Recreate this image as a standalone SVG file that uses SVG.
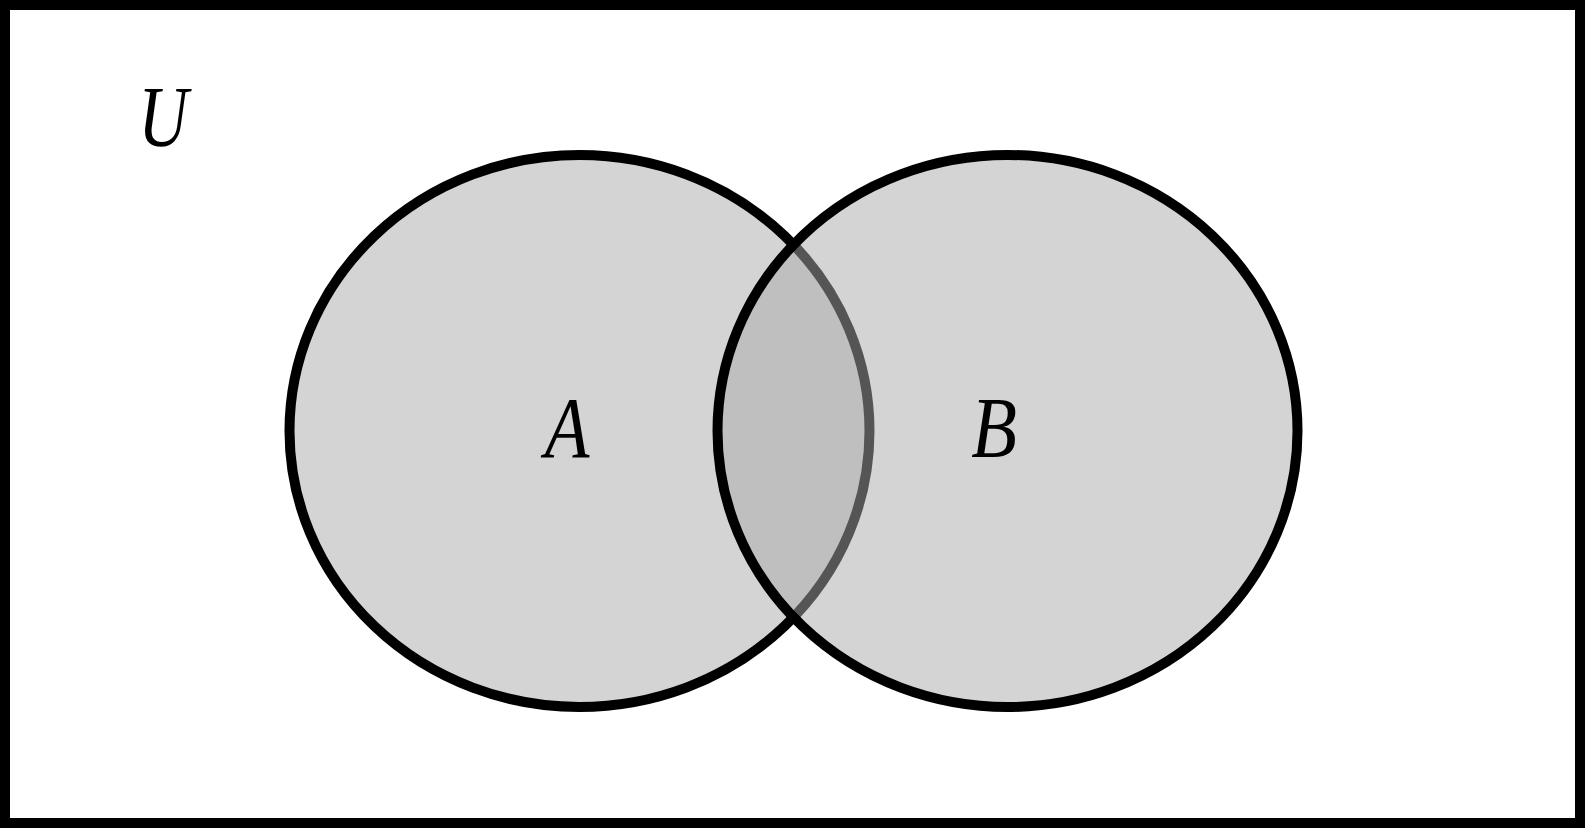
<svg xmlns="http://www.w3.org/2000/svg" width="1585" height="828" viewBox="0 0 1585 828">
<style>
.set{fill:#a9a9a9;fill-opacity:0.5;stroke:#000;stroke-width:10}
.lbl{font-family:"Liberation Serif","Times New Roman",serif;font-style:italic;font-size:86px;fill:#000;text-anchor:middle}
</style>
<rect x="0" y="0" width="1585" height="828" fill="#fff"/>
<g id="universe">
<rect x="5" y="5" width="1575" height="818" fill="none" stroke="#000" stroke-width="10"/>
<text class="lbl" transform="translate(163,146) scale(0.8,1)">U</text>
</g>
<g id="setA">
<ellipse class="set" cx="579.5" cy="431" rx="290" ry="276"/>
<text class="lbl" transform="translate(567,457) scale(0.85,1)">A</text>
</g>
<g id="setB">
<ellipse class="set" cx="1007.5" cy="431" rx="290" ry="276"/>
<text class="lbl" transform="translate(994,457) scale(0.87,1)">B</text>
</g>
<g id="connectors"/>
</svg>
